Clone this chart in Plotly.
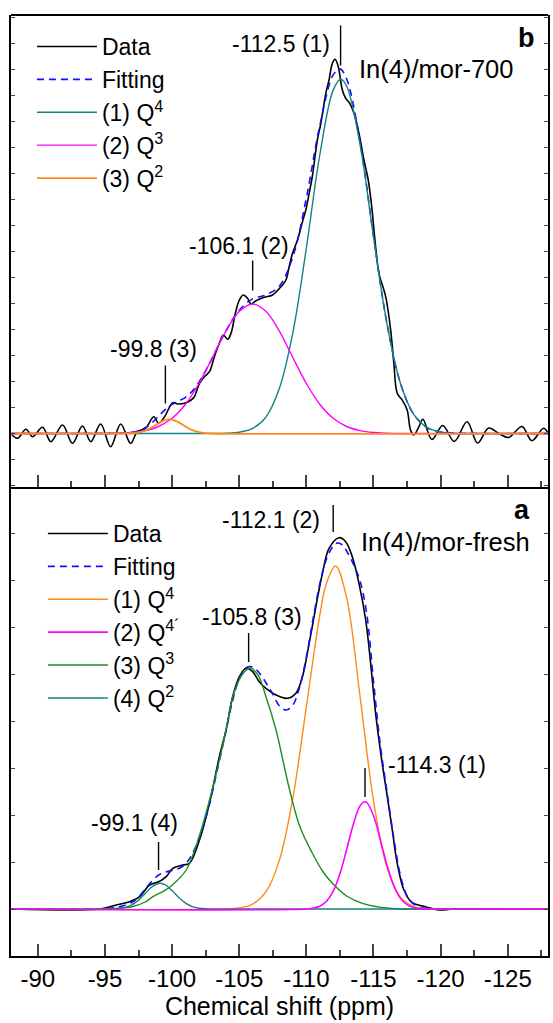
import plotly.graph_objects as go

# ---------------- Panel b : In(4)/mor-700 ----------------
bx_data = [-88.0, -88.49, -89.11, -89.61, -90.35, -90.97, -91.84, -92.58, -93.32, -93.94, -94.68, -95.42, -96.17, -96.91, -97.41, -98.02, -98.64, -98.99, -99.44, -100.05, -100.42, -100.92, -101.42, -101.66, -102.04, -102.41, -102.78, -103.15, -103.52, -103.82, -104.14, -104.39, -104.71, -105.01, -105.30, -105.62, -105.88, -106.25, -106.86, -107.48, -108.11, -108.48, -108.72, -108.97, -109.34, -109.71, -109.96, -110.21, -110.45, -110.82, -111.08, -111.45, -111.69, -111.94, -112.14, -112.38, -112.68, -112.93, -113.23, -113.55, -113.92, -114.29, -114.61, -114.87, -115.11, -115.41, -115.91, -116.28, -116.52, -116.77, -117.14, -117.51, -117.76, -118.01, -118.38, -118.68, -119.35, -120.16, -121.02, -121.97, -122.76, -123.58, -124.32, -125.07, -126.06, -126.80, -127.67, -128.0]
by_data = [0, -4.8, 4.2, -3.2, 6.2, -8.2, 8.5, -9.8, 7.5, -8.2, 9.5, -13.2, 9.5, -9.8, 1.8, 5.2, 16.8, 10.2, 16.8, 30.8, 29.5, 30.2, 33.5, 36.8, 50.2, 56.8, 61.8, 76.8, 90.2, 98.5, 94.2, 100.2, 120.2, 133.5, 138.5, 135.2, 129.5, 132.8, 136.2, 138.5, 146.8, 153.5, 166.8, 180.2, 193.5, 211.8, 223.5, 240.2, 257.5, 293.5, 310.2, 340.2, 353.5, 370.2, 374.2, 366.8, 343.5, 335.2, 330.2, 320.2, 300.2, 273.5, 253.5, 226.8, 193.5, 160.2, 136.8, 103.5, 70.2, 40.2, 33.5, 23.5, 3.5, -1.5, 6.8, 14.2, -6, 8, -8, 11.8, -9.5, 5.5, 0.2, -4, 7, -7.2, 5.2, 0.5]

bx_fit = [-88, -96, -97, -97.5, -98, -98.5, -99, -99.5, -100, -100.5, -101, -101.5, -102, -102.5, -103, -104, -105, -106, -107, -108, -109, -110, -111, -112, -112.5, -113, -114, -115, -116, -117, -118, -119, -120, -121, -128]
by_fit = [0, 0.4, 1.3, 2.8, 5.7, 10.7, 17.3, 24.1, 29.1, 32.5, 36.2, 42.1, 51.3, 62.9, 75.9, 102.4, 123.3, 134.6, 138.7, 147.6, 177.0, 235.4, 307.8, 358.6, 364.6, 354.5, 291.5, 197.7, 110.3, 50.6, 19.1, 5.9, 1.5, 0.3, 0]

bx_q4 = [-88, -103, -104, -105, -106, -107, -108, -109, -110, -111, -112, -112.56, -113, -114, -115, -116, -117, -118, -119, -120, -121, -122, -128]
by_q4 = [0, 0, 0.25, 1.3, 5.1, 16.7, 45.5, 101.2, 185.4, 278.5, 343.4, 354.2, 347.5, 288.6, 196.7, 110.0, 50.5, 19.1, 5.9, 1.5, 0.3, 0, 0]

bx_q3 = [-88, -95, -96, -97, -98, -99, -100, -101, -102, -103, -104, -105, -106, -107, -108, -109, -110, -111, -112, -113, -114, -115, -116, -117, -128]
by_q3 = [0, 0, 0.3, 1.0, 2.9, 7.0, 15.2, 29.3, 50.0, 75.8, 102.1, 122.0, 129.5, 122.0, 102.1, 75.8, 50.0, 29.3, 15.2, 7.0, 2.9, 1.0, 0.3, 0, 0]

bx_q2 = [-88, -96.5, -97, -97.5, -98, -98.5, -99, -99.5, -99.8, -100, -100.5, -101, -101.5, -102, -102.5, -103, -128]
by_q2 = [0, 0, 0.3, 1.0, 2.8, 6.1, 10.3, 13.6, 14.2, 13.9, 11.1, 6.9, 3.3, 1.3, 0.4, 0, 0]

# ---------------- Panel a : In(4)/mor-fresh ----------------
ax_data = [-88, -94.6, -95.85, -96.83, -97.58, -98.32, -99.01, -99.56, -100.05, -100.8, -101.29, -102.04, -102.78, -103.52, -104.02, -104.51, -105.01, -105.5, -106.0, -106.49, -106.99, -107.74, -108.6, -109.22, -109.71, -110.21, -110.71, -111.2, -111.69, -112.44, -112.93, -113.42, -113.92, -114.42, -114.79, -115.16, -115.65, -116.03, -116.4, -116.77, -117.27, -117.88, -118.88, -119.87, -121, -128]
ay_data = [0, 0, 4, 7.3, 12.3, 24, 27.3, 32.3, 40.7, 44, 45.7, 69, 105.7, 152.3, 179, 212.3, 232.3, 240.7, 237.3, 227.3, 220.7, 214, 210.7, 215.7, 232.3, 265.7, 302.3, 335.7, 360.7, 371.3, 367.3, 352.3, 325.7, 289, 245.7, 195.7, 145.7, 112.3, 79, 45.7, 19, 6.3, 2.3, -1, 0, 0]

ax_fit = [-88, -94, -95, -96, -97, -97.5, -98, -98.5, -99, -99.5, -100, -100.5, -101, -101.5, -102, -102.5, -103, -103.5, -104, -104.5, -105, -105.5, -106, -106.5, -107, -107.5, -108, -108.5, -109, -109.5, -110, -110.5, -111, -111.5, -112, -112.3, -112.7, -113, -113.5, -114, -114.5, -115, -115.5, -116, -116.5, -117, -117.5, -118, -118.5, -119, -120, -128]
ay_fit = [0, 0, 0.5, 2, 6.5, 12, 20, 28, 34, 37, 38.5, 40.5, 45, 55, 70, 90, 117, 147, 177, 208, 230, 241, 242, 236, 226, 215, 203, 199, 204, 222, 252, 290, 325, 350, 363, 366, 364, 358, 345, 328, 295, 228, 165, 118, 72, 34, 13, 5, 2, 0.5, 0, 0]

ax_q4 = [-88, -104, -105, -106, -107, -108, -109, -110, -111, -111.5, -112.18, -113, -114, -115, -116, -117, -118, -119, -120, -128]
ay_q4 = [0, 0, 1.1, 4.9, 17.3, 49.1, 111.4, 202.2, 293.7, 325.8, 343, 311.3, 212.6, 108.7, 41.6, 11.9, 2.6, 0.4, 0, 0]

ax_q4p = [-88, -110, -110.5, -111, -111.5, -112, -112.5, -113, -113.5, -114, -114.35, -114.5, -115, -115.5, -116, -116.5, -117, -117.5, -118, -118.5, -119, -128]
ay_q4p = [0, 0, 0.9, 2.8, 7.7, 17.8, 35.3, 59.3, 84.8, 103.1, 107.3, 106.5, 93.5, 69.8, 44.2, 23.9, 10.9, 4.3, 1.4, 0.4, 0, 0]

ax_q3 = [-88, -94.5, -96, -97, -98, -98.57, -99.5, -100, -101.05, -102, -103.01, -104.02, -104.51, -105.2, -105.8, -106.4, -107.0, -107.74, -108.72, -109.5, -110.45, -111.2, -111.94, -113, -114.17, -116.15, -118, -128]
ay_q3 = [0, 0, 0.8, 2.3, 7, 12.3, 18.9, 23.8, 39, 72, 120.5, 179, 212, 234, 241, 234, 212, 179, 121, 83, 55.7, 38, 25.7, 13, 5.7, 0.7, 0, 0]

ax_q2 = [-88, -95.5, -96, -96.5, -97, -97.5, -98, -98.5, -99.1, -99.5, -100, -100.5, -101, -101.5, -102, -102.5, -103, -128]
ay_q2 = [0, 0, 0.5, 1.6, 4.2, 8.9, 15.6, 22.2, 25.7, 24.1, 18.4, 11.4, 5.8, 2.4, 0.8, 0.2, 0, 0]

# x tick labels (hyphen minus as in the original)
x_tickvals = [-90, -95, -100, -105, -110, -115, -120, -125]
x_ticktext = ["-90", "-95", "-100", "-105", "-110", "-115", "-120", "-125"]

# peak annotations: (label, marker x, text x, text y, line y0, line y1, anchor)
b_peaks = [("-112.5 (1)", -112.55, -111.92, 390, 368, 408, "right"),
           ("-106.1 (2)", -106.0, -105.0, 188, 143, 173, "center"),
           ("-99.8 (3)", -99.5, -98.58, 85, 30, 68, "center")]
a_peaks = [("-112.1 (2)", -112.0, -111.2, 389, 377, 404, "right"),
           ("-105.8 (3)", -105.7, -105.95, 292, 247, 276, "center"),
           ("-114.3 (1)", -114.37, -115.9, 144, 112, 141, "left"),
           ("-99.1 (4)", -98.99, -97.2, 86, 39, 67, "center")]

FONT = "Liberation Sans, Arial, Helvetica, sans-serif"
TEAL = "#168383"
MAG = "#FF00FF"
ORG = "#FF8A1C"
GRN = "#1E8C1E"
BLUE = "#1010FF"

fig = go.Figure()
sp = dict(mode="lines", line_shape="spline")

# panel b traces (top)
fig.add_trace(go.Scatter(x=bx_data, y=by_data, name="Data", line=dict(color="black", width=1.6), xaxis="x2", yaxis="y2", legend="legend", **sp))
fig.add_trace(go.Scatter(x=bx_fit, y=by_fit, name="Fitting", line=dict(color=BLUE, width=1.6, dash="7px,5px"), xaxis="x2", yaxis="y2", legend="legend", **sp))
fig.add_trace(go.Scatter(x=bx_q4, y=by_q4, name="(1) Q<sup>4</sup>", line=dict(color=TEAL, width=1.4), xaxis="x2", yaxis="y2", legend="legend", **sp))
fig.add_trace(go.Scatter(x=bx_q3, y=by_q3, name="(2) Q<sup>3</sup>", line=dict(color=MAG, width=1.4), xaxis="x2", yaxis="y2", legend="legend", **sp))
fig.add_trace(go.Scatter(x=bx_q2, y=by_q2, name="(3) Q<sup>2</sup>", line=dict(color=ORG, width=1.8), xaxis="x2", yaxis="y2", legend="legend", **sp))

# panel a traces (bottom)
fig.add_trace(go.Scatter(x=ax_data, y=ay_data, name="Data", line=dict(color="black", width=1.6), xaxis="x", yaxis="y", legend="legend2", legendrank=0, **sp))
fig.add_trace(go.Scatter(x=ax_fit, y=ay_fit, name="Fitting", line=dict(color=BLUE, width=1.6, dash="7px,5px"), xaxis="x", yaxis="y", legend="legend2", legendrank=1, **sp))
fig.add_trace(go.Scatter(x=ax_q4, y=ay_q4, name="(1) Q<sup>4</sup>", line=dict(color=ORG, width=1.4), xaxis="x", yaxis="y", legend="legend2", legendrank=2, **sp))
fig.add_trace(go.Scatter(x=ax_q3, y=ay_q3, name="(3) Q<sup>3</sup>", line=dict(color=GRN, width=1.4), xaxis="x", yaxis="y", legend="legend2", legendrank=4, **sp))
fig.add_trace(go.Scatter(x=ax_q2, y=ay_q2, name="(4) Q<sup>2</sup>", line=dict(color=TEAL, width=1.4), xaxis="x", yaxis="y", legend="legend2", legendrank=5, **sp))
fig.add_trace(go.Scatter(x=ax_q4p, y=ay_q4p, name="(2) Q<sup>4´</sup>", line=dict(color=MAG, width=1.6), xaxis="x", yaxis="y", legend="legend2", legendrank=3, **sp))

W, H = 553, 1023
ML, MR, MT, MB = 11, 3, 15, 67
PH = H - MT - MB
split = (956 - 487) / PH

xcommon = dict(range=[-88, -128], tickvals=x_tickvals, ticktext=x_ticktext, ticks="inside",
               ticklen=12, tickwidth=1.5, linecolor="black", linewidth=2, showgrid=False, zeroline=False,
               minor=dict(ticks="inside", ticklen=6, tickwidth=1.5, dtick=2.5, tick0=-90, showgrid=False))
ycommon = dict(ticks="inside", ticklen=4, tickwidth=1.3, showticklabels=False, showgrid=False,
               zeroline=False, linecolor="black", linewidth=2, mirror="ticks", tick0=0)

fig.update_layout(
    width=W, height=H,
    margin=dict(l=ML, r=MR, t=MT, b=MB),
    paper_bgcolor="white", plot_bgcolor="white",
    font=dict(family=FONT, size=23, color="black"),
    xaxis=dict(**xcommon, anchor="y", showticklabels=True, tickfont=dict(size=24),
               title=dict(text="Chemical shift (ppm)", font=dict(size=25), standoff=4)),
    yaxis=dict(**ycommon, domain=[0, split], range=[-47, 422], dtick=47, anchor="x"),
    xaxis2=dict(**xcommon, anchor="y2", showticklabels=False, matches="x"),
    yaxis2=dict(**ycommon, domain=[split, 1], range=[-53.5, 418.5], dtick=26, anchor="x2"),
    legend=dict(x=(32 - ML) / 539, y=1 - (25 - MT) / PH, xanchor="left", yanchor="top",
                bgcolor="rgba(0,0,0,0)", font=dict(size=23), itemwidth=60, tracegroupgap=0),
    legend2=dict(x=(43 - ML) / 539, y=(956 - 512) / PH, xanchor="left", yanchor="top",
                 bgcolor="rgba(0,0,0,0)", font=dict(size=23), itemwidth=60, tracegroupgap=0,
                 traceorder="normal"),
    showlegend=True,
)
# top frame line of panel b
fig.add_shape(type="line", xref="paper", yref="paper", x0=0, x1=1, y0=1, y1=1,
              line=dict(color="black", width=2))

def add_peaks(peaks, xr, yr):
    for lab, xm, xt, yt, y0, y1, anc in peaks:
        fig.add_shape(type="line", xref=xr, yref=yr, x0=xm, x1=xm, y0=y0, y1=y1,
                      line=dict(color="black", width=1.4))
        fig.add_annotation(x=xt, y=yt, xref=xr, yref=yr, text=lab, showarrow=False,
                           xanchor=anc, yanchor="middle", font=dict(size=23))

add_peaks(b_peaks, "x2", "y2")
add_peaks(a_peaks, "x", "y")

fig.add_annotation(x=-113.77, y=365, xref="x2", yref="y2", text="In(4)/mor-700", showarrow=False,
                   xanchor="left", yanchor="middle", font=dict(size=25.5))
fig.add_annotation(x=-127.2, y=396, xref="x2", yref="y2", text="<b>b</b>", showarrow=False,
                   xanchor="right", yanchor="middle", font=dict(size=27))
fig.add_annotation(x=-113.92, y=367, xref="x", yref="y", text="In(4)/mor-fresh", showarrow=False,
                   xanchor="left", yanchor="middle", font=dict(size=25.5))
fig.add_annotation(x=-126.8, y=399, xref="x", yref="y", text="<b>a</b>", showarrow=False,
                   xanchor="right", yanchor="middle", font=dict(size=27))

fig.write_html("out.html", config={"displayModeBar": False},
               post_script="document.body.style.margin='0px';")
